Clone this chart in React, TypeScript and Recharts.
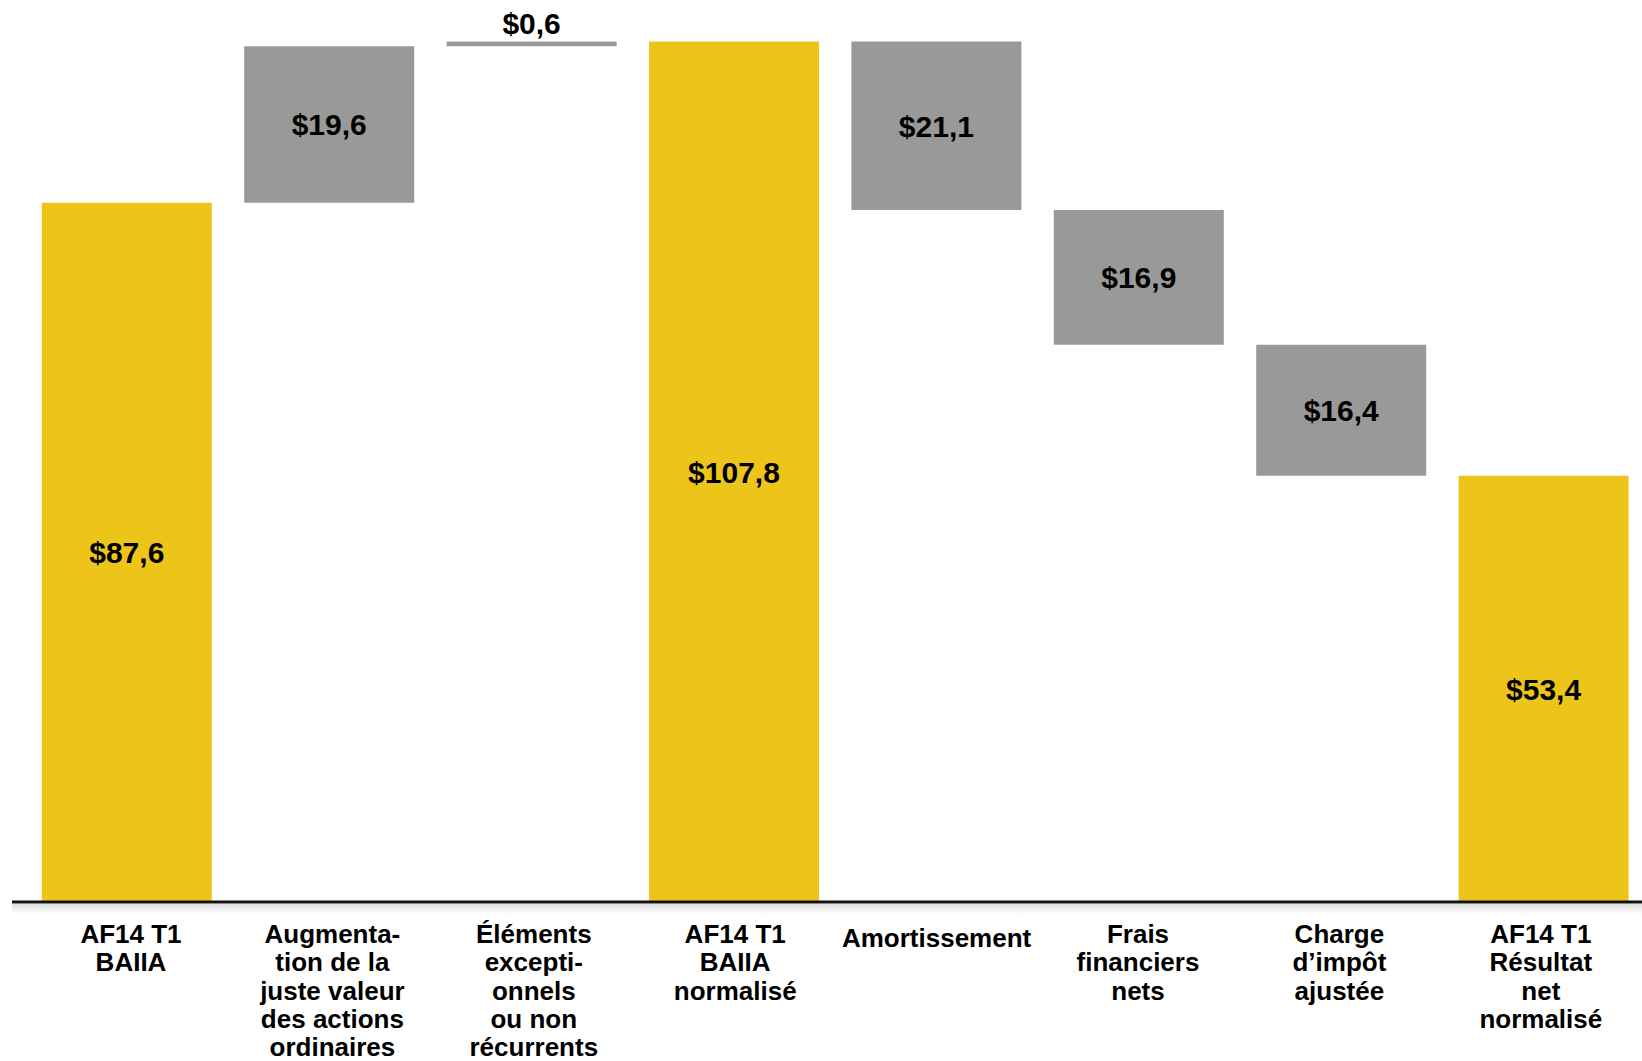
import React from 'react';
import { BarChart, Bar, XAxis, YAxis, Cell, LabelList } from 'recharts';

const categories = [
  'AF14 T1\nBAIIA',
  'Augmenta-\ntion de la\njuste valeur\ndes actions\nordinaires',
  'Éléments\nexcepti-\nonnels\nou non\nrécurrents',
  'AF14 T1\nBAIIA\nnormalisé',
  'Amortissement',
  'Frais\nfinanciers\nnets',
  'Charge\nd’impôt\najustée',
  'AF14 T1\nRésultat\nnet\nnormalisé',
];
const amounts = [87.6, 19.6, 0.6, 107.8, 21.1, 16.9, 16.4, 53.4];
const kinds = ['total', 'up', 'up', 'total', 'down', 'down', 'down', 'total'];

const YELLOW = '#EDC51A';
const GRAY = '#999999';
const FONT = '"Liberation Sans", Arial, Helvetica, sans-serif';

// waterfall: invisible base + visible step
let running = 0;
const data = categories.map((name, i) => {
  const v = amounts[i];
  let base = 0;
  if (kinds[i] === 'total') {
    base = 0;
    running = v;
  } else if (kinds[i] === 'up') {
    base = running;
    running += v;
  } else {
    running -= v;
    base = running;
  }
  return { name, base, value: v, kind: kinds[i] };
});

const fmt = (v: number) => '$' + v.toFixed(1).replace('.', ',');

const ValueLabel = (props: any) => {
  const { x, y, width, height, value } = props;
  const cx = x + width / 2;
  if (height < 20) {
    return (
      <text x={cx} y={y - 8} textAnchor="middle" fontFamily={FONT} fontWeight="bold" fontSize={30} fill="#000">
        {fmt(value)}
      </text>
    );
  }
  return (
    <text x={cx} y={y + height / 2} dy="0.36em" textAnchor="middle" fontFamily={FONT} fontWeight="bold" fontSize={30} fill="#000">
      {fmt(value)}
    </text>
  );
};

// labels sit on a slightly narrower pitch than the bars
const CategoryTick = (props: any) => {
  const { x, y, payload, index } = props;
  const lines = String(payload.value).split('\n');
  const tx = x + 4 - (index || 0);
  const ty = y + (lines.length === 1 ? 45 : 41);
  return (
    <text x={tx} y={ty} textAnchor="middle" fontFamily={FONT} fontWeight="bold" fontSize={26} fill="#000">
      {lines.map((l, i) => (
        <tspan key={i} x={tx} dy={i === 0 ? 0 : 28.3}>{l}</tspan>
      ))}
    </text>
  );
};

export default function App() {
  return (
    <div style={{ position: 'absolute', left: 0, top: 0, width: 1642, height: 1061, overflow: 'hidden', background: '#fff' }}>
      <BarChart width={1650} height={1061} data={data} margin={{ top: 24, right: 0, left: 12, bottom: 0 }}>
        <XAxis
          dataKey="name"
          height={159}
          interval={0}
          padding={{ left: 13.8, right: 5 }}
          tickLine={false}
          tickSize={0}
          tickMargin={0}
          axisLine={{ stroke: '#111', strokeWidth: 3 }}
          tick={<CategoryTick />}
        />
        <YAxis hide domain={[0, 110]} allowDataOverflow />
        <Bar dataKey="base" stackId="w" fill="transparent" barSize={170} isAnimationActive={false} />
        <Bar dataKey="value" stackId="w" barSize={170} isAnimationActive={false}>
          {data.map((d, i) => (
            <Cell key={i} fill={d.kind === 'total' ? YELLOW : GRAY} />
          ))}
          <LabelList dataKey="value" content={<ValueLabel />} />
        </Bar>
      </BarChart>
      <div
        style={{
          position: 'absolute',
          left: 12,
          top: 904,
          width: 1630,
          height: 10,
          background: 'linear-gradient(rgba(0,0,0,0.13), rgba(0,0,0,0))',
        }}
      />
    </div>
  );
}
